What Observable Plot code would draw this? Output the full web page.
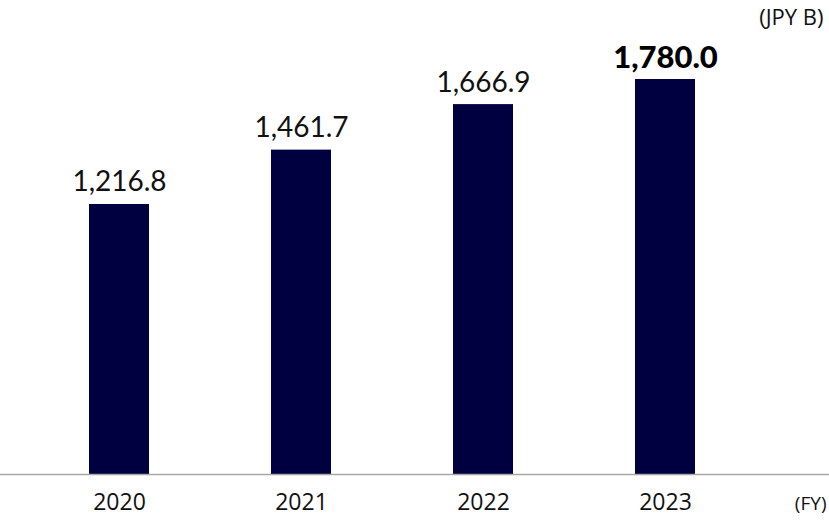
<!DOCTYPE html>
<html><head><meta charset="utf-8">
<script src="https://cdn.jsdelivr.net/npm/d3@7"></script>
<script src="https://cdn.jsdelivr.net/npm/@observablehq/plot@0.6"></script>
<style>body{margin:0;background:#fff}</style>
</head><body><div id="chart"></div>
<script>
const years = ["2020", "2021", "2022", "2023"];
const values = [1216.8, 1461.7, 1666.9, 1780.0];
const labels = ["1,216.8", "1,461.7", "1,666.9", "1,780.0"];
const unitLabel = "(JPY B)";
const axisLabel = "(FY)";

const data = years.map((y, i) => ({year: y, value: values[i], label: labels[i], last: i === years.length - 1}));

const chart = Plot.plot({
  width: 829, height: 520,
  marginTop: 79, marginBottom: 46, marginLeft: 0, marginRight: 0,
  style: {fontFamily: "'Open Sans', sans-serif", background: "#fff"},
  x: {domain: years, range: [0, 784], paddingInner: 0.67, paddingOuter: 0.482, axis: null},
  y: {domain: [0, 1780], axis: null},
  marks: [
    Plot.barY(data, {x: "year", y: "value", fill: "#000040"}),
    Plot.ruleY([0], {stroke: "#a6a6a6", strokeWidth: 1.5}),
    Plot.text(data.filter(d => !d.last), {x: "year", y: "value", text: "label", dy: -13, lineAnchor: "bottom", fontSize: 28, fill: "#111", fontFamily: "Lato, sans-serif"}),
    Plot.text(data.filter(d => d.last), {x: "year", y: "value", text: "label", dy: -12, lineAnchor: "bottom", fontSize: 31, fontWeight: 900, fill: "#000", fontFamily: "Lato, sans-serif", letterSpacing: 2}),
    Plot.text(years, {x: d => d, text: d => d, frameAnchor: "bottom", dy: 35, lineAnchor: "bottom", fontSize: 23, fill: "#111"}),
    Plot.text([axisLabel], {frameAnchor: "bottom-right", text: d => d, textAnchor: "end", dx: -3, dy: 35, lineAnchor: "bottom", fontSize: 19, fill: "#111"}),
    Plot.text([unitLabel], {frameAnchor: "top-right", text: d => d, textAnchor: "end", dx: -6, dy: -55, lineAnchor: "bottom", fontSize: 22, fill: "#111"})
  ]
});
document.getElementById("chart").appendChild(chart);
</script></body></html>
